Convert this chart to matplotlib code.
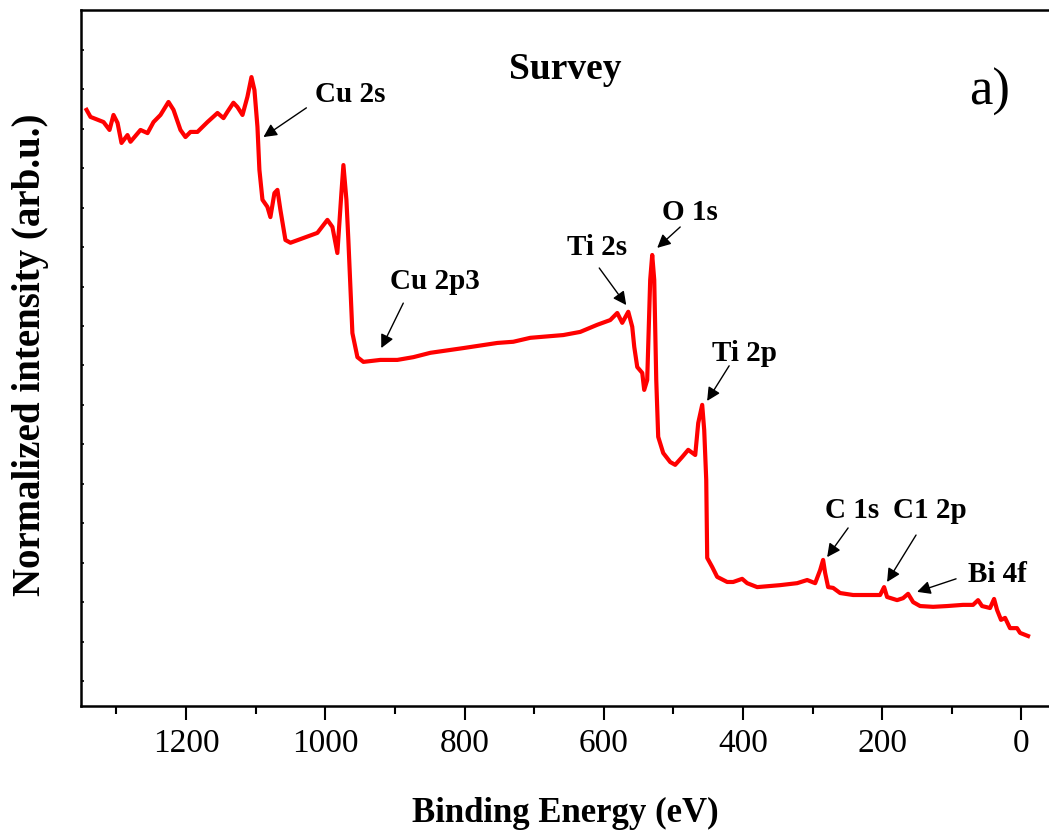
import matplotlib
matplotlib.use("Agg")
from matplotlib import pyplot as plt
import numpy as np

# survey spectrum (binding energy in eV, intensity in arb. units)
energy = [1343.0, 1337.3, 1318.6, 1310.0, 1304.3, 1298.5, 1292.8, 1284.2, 1279.9, 1265.5,
          1255.4, 1246.8, 1236.8, 1225.3, 1218.1, 1208.1, 1200.9, 1193.7, 1183.7, 1169.3,
          1154.9, 1146.3, 1140.6, 1132.0, 1126.2, 1119.0, 1111.9, 1106.1, 1101.8, 1097.5,
          1094.7, 1090.3, 1083.2, 1078.9, 1073.1, 1068.8, 1064.5, 1057.3, 1050.1, 1031.5,
          1011.4, 997.0, 989.8, 982.7, 976.9, 974.0, 969.7, 966.9, 961.1, 953.9,
          945.3, 920.9, 896.5, 873.5, 849.1, 801.7, 752.9, 730.0, 705.6, 658.2,
          633.8, 609.4, 590.7, 580.6, 573.5, 564.8, 559.1, 556.2, 551.9, 544.7,
          541.9, 537.6, 533.3, 530.4, 527.5, 524.6, 521.8, 514.6, 504.5, 497.4,
          487.3, 478.7, 468.6, 464.3, 458.6, 455.7, 452.8, 451.4, 444.2, 437.1,
          422.7, 414.1, 401.2, 394.0, 379.6, 346.6, 322.2, 307.8, 296.3, 289.2,
          284.9, 282.0, 277.7, 270.5, 260.5, 241.8, 203.0, 197.3, 193.0, 178.6,
          170.0, 162.8, 155.6, 145.6, 126.9, 106.8, 83.9, 69.5, 62.3, 56.6,
          45.1, 39.3, 35.0, 29.3, 23.5, 16.4, 6.3, 2.0, -9.5]
intensity = [14.48, 14.30, 14.17, 13.97, 14.35, 14.15, 13.64, 13.84, 13.67, 13.97,
             13.89, 14.17, 14.35, 14.68, 14.48, 13.97, 13.79, 13.92, 13.92, 14.17,
             14.40, 14.27, 14.43, 14.66, 14.55, 14.35, 14.81, 15.31, 14.98, 14.05,
             12.96, 12.20, 12.02, 11.76, 12.37, 12.45, 11.94, 11.18, 11.11, 11.23,
             11.36, 11.69, 11.51, 10.85, 12.37, 13.08, 12.20, 11.18, 8.82, 8.21,
             8.09, 8.14, 8.14, 8.21, 8.32, 8.44, 8.57, 8.60, 8.70, 8.77,
             8.85, 9.03, 9.15, 9.33, 9.08, 9.36, 8.98, 8.47, 7.96, 7.81,
             7.38, 7.63, 10.17, 10.80, 10.17, 7.63, 6.19, 5.78, 5.55, 5.48,
             5.68, 5.86, 5.73, 6.54, 7.00, 6.36, 5.10, 3.12, 2.89, 2.64,
             2.51, 2.51, 2.59, 2.48, 2.38, 2.43, 2.48, 2.56, 2.48, 2.81,
             3.07, 2.74, 2.38, 2.36, 2.23, 2.18, 2.18, 2.38, 2.13, 2.05,
             2.10, 2.21, 2.00, 1.90, 1.88, 1.90, 1.93, 1.93, 2.05, 1.90,
             1.85, 2.08, 1.80, 1.55, 1.60, 1.34, 1.34, 1.22, 1.14]

# peak labels: text, text position, arrow tail, arrow head (eV, intensity)
peak_names = ["Cu 2s", "Cu 2p3", "Ti 2s", "O 1s", "Ti 2p", "C 1s", "C1 2p", "Bi 4f"]
label_pos = [(964.0, 14.86), (842.0, 10.12), (609.4, 11.00), (475.8, 11.87),
             (398.4, 8.29), (243.2, 4.31), (131.2, 4.31), (35.0, 2.69)]
arrow_tail = [(1027.2, 14.53), (888.0, 9.58), (606.5, 10.47), (490.2, 11.51),
              (419.9, 7.99), (249.0, 3.88), (151.4, 3.70), (93.9, 2.59)]
arrow_head = [(1088.9, 13.79), (919.6, 8.44), (567.7, 9.53), (523.2, 10.98),
              (451.5, 7.10), (279.1, 3.14), (193.0, 2.51), (149.9, 2.26)]

plt.rcParams["font.family"] = ["Liberation Serif", "DejaVu Serif"]

fig = plt.figure(figsize=(10.49, 8.36), dpi=100)
ax = fig.add_axes([0.0772, 0.1555, 0.9228, 0.8325])

ax.plot(energy, intensity, color="#ff0000", lw=3.0, solid_joinstyle="round")

for name, p, t, h in zip(peak_names, label_pos, arrow_tail, arrow_head):
    ax.annotate("", xy=h, xytext=t,
                arrowprops=dict(arrowstyle="-|>", color="black", lw=1.0,
                                mutation_scale=20, shrinkA=0, shrinkB=0))
    ax.text(p[0], p[1], name, fontsize=21, fontweight="bold", ha="center", va="center")

ax.text(655.3, 15.49, "Survey", fontsize=27, fontweight="bold", ha="center", va="center")
ax.text(45.1, 14.93, "a)", fontsize=38, ha="center", va="center")

ax.set_xlim(1351, -39.6)
ax.set_ylim(-0.634, 17.01)

ax.set_xticks(np.arange(0, 1201, 200))
ax.set_xticks(np.arange(100, 1301, 200), minor=True)
ax.set_yticks(np.arange(0, 17))
ax.set_yticklabels([])
ax.tick_params(axis="x", which="major", direction="out", length=10, width=1.5,
               labelsize=24, pad=6)
ax.tick_params(axis="x", which="minor", direction="out", length=6, width=1.5)
ax.tick_params(axis="y", direction="in", length=2.5, width=1.2)

for side in ["left", "bottom", "top"]:
    ax.spines[side].set_linewidth(1.8)
ax.spines["right"].set_visible(False)

ax.set_xlabel("Binding Energy (eV)", fontsize=25, fontweight="bold")
ax.xaxis.set_label_coords(0.5, -0.131)
ax.set_ylabel("Normalized intensity (arb.u.)", fontsize=28, fontweight="bold")
ax.yaxis.set_label_coords(-0.033, 0.504)

fig.savefig("out.png", dpi=100)
